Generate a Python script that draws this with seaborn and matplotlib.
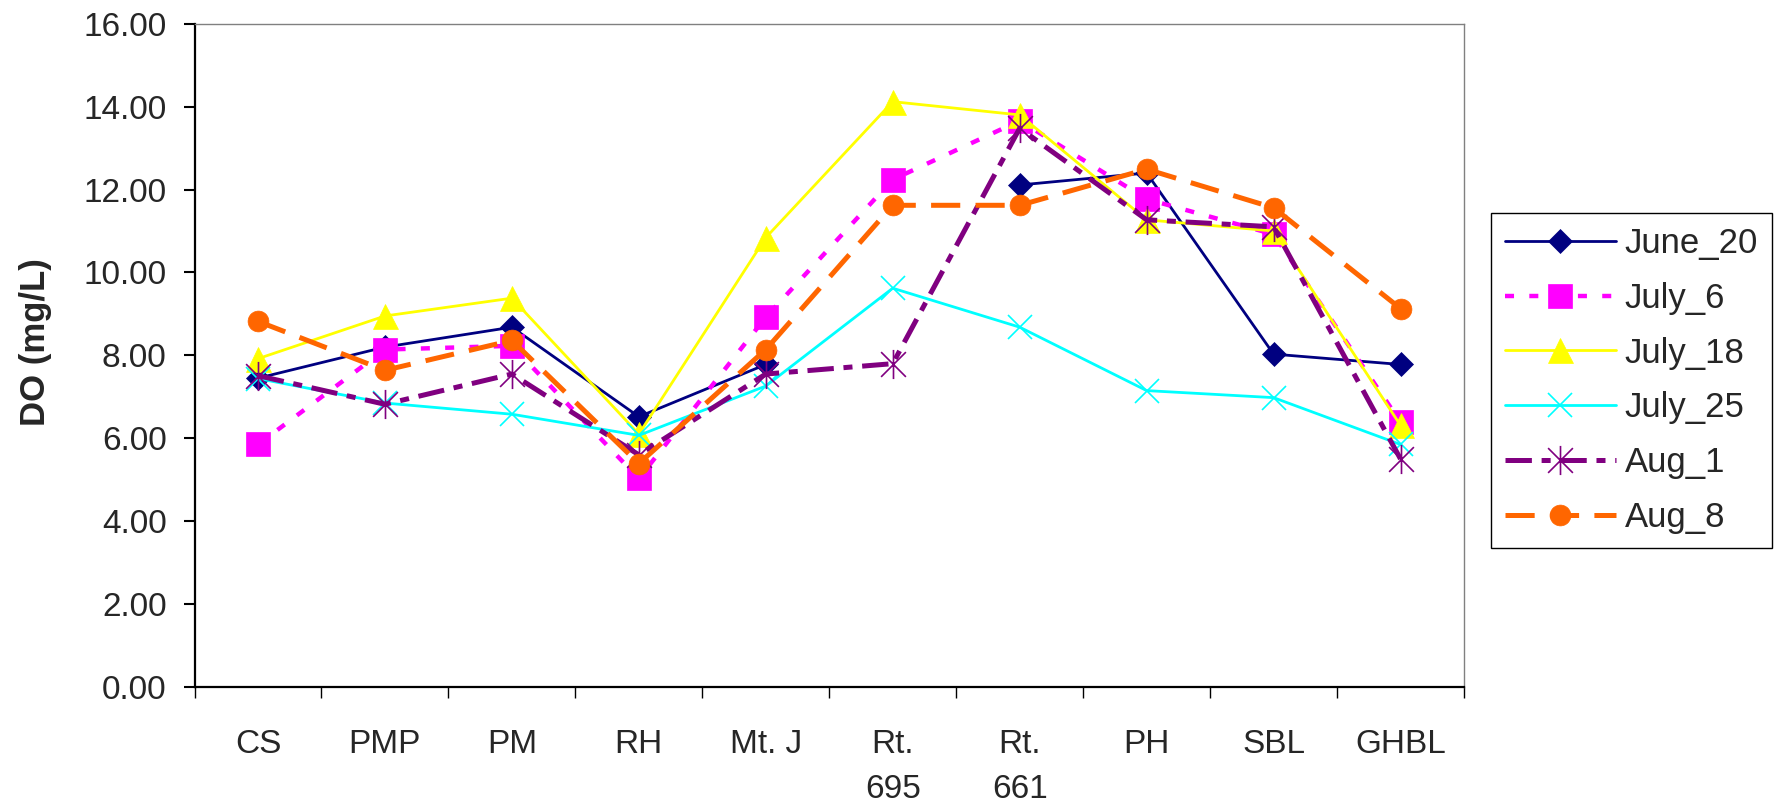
import numpy as np
import matplotlib.pyplot as plt
import seaborn as sns
from matplotlib.lines import Line2D
from matplotlib.path import Path

sns.set_theme(style='white')
plt.rcParams['font.family'] = ['Liberation Sans', 'DejaVu Sans']
plt.rcParams['lines.scale_dashes'] = False

nan = np.nan

sites = ["CS", "PMP", "PM", "RH", "Mt. J", "Rt.\n695", "Rt.\n661", "PH", "SBL", "GHBL"]

june_20 = [7.45, 8.20, 8.68, 6.52, 7.78, nan, 12.11, 12.40, 8.03, 7.78]
july_6 = [5.85, 8.14, 8.23, 5.03, 8.92, 12.24, 13.66, 11.77, 10.92, 6.39]
july_18 = [7.92, 8.95, 9.38, 6.10, 10.84, 14.12, 13.80, 11.27, 11.00, 6.31]
july_25 = [7.44, 6.85, 6.58, 6.07, 7.26, 9.62, 8.68, 7.15, 6.98, 5.85]
aug_1 = [7.51, 6.82, 7.55, 5.60, 7.55, 7.80, 13.48, 11.27, 11.10, 5.50]
aug_8 = [8.82, 7.64, 8.36, 5.39, 8.14, 11.62, 11.62, 12.49, 11.56, 9.13]

# Excel style asterisk: X plus a vertical bar
star = Path([(0, -1), (0, 1), (-0.85, -0.85), (0.85, 0.85), (-0.85, 0.85), (0.85, -0.85)],
            [Path.MOVETO, Path.LINETO, Path.MOVETO, Path.LINETO, Path.MOVETO, Path.LINETO])

series = [
    ('June_20', june_20, dict(color='#000080', lw=2.0, ls='-', marker='D', ms=12.5, mew=0.5)),
    ('July_6', july_6, dict(color='#FF00FF', lw=3.2, ls=(0, (6.5, 11)), marker='s', ms=17, mew=0.5)),
    ('July_18', july_18, dict(color='#FFFF00', lw=2.0, ls='-', marker='^', ms=18, mew=0.5)),
    ('July_25', july_25, dict(color='#00FFFF', lw=2.0, ls='-', marker='x', ms=17, mew=1.2)),
    ('Aug_1', aug_1, dict(color='#800080', lw=3.6, ls=(0, (19, 7, 6.5, 7)), marker=star, ms=21, mew=1.2)),
    ('Aug_8', aug_8, dict(color='#FF6600', lw=3.6, ls=(0, (21, 11)), marker='o', ms=15, mew=0.5)),
]

fig = plt.figure(figsize=(17.78, 8.07), dpi=100)
ax = fig.add_axes([0.1094, 0.1487, 0.7140, 0.8219])

pos = np.arange(len(sites))
handles = []
for name, vals, st in series:
    vals = np.array(vals, dtype=float)
    seg = np.cumsum(np.isnan(vals))
    sns.lineplot(x=pos, y=vals, units=seg, estimator=None, sort=False, legend=False, ax=ax,
                 color=st['color'], linewidth=st['lw'], linestyle=st['ls'],
                 marker=st['marker'], markersize=st['ms'], markeredgewidth=st['mew'],
                 markeredgecolor=st['color'], markerfacecolor=st['color'])
    handles.append(Line2D([], [], color=st['color'], lw=st['lw'], ls=st['ls'], marker=st['marker'],
                          ms=st['ms'], mew=st['mew'], mec=st['color'], mfc=st['color'], label=name))

ax.set_xlim(-0.5, len(sites) - 0.5)
ax.set_ylim(0, 16)
ax.set_yticks(np.arange(0, 16.1, 2))
ax.set_yticklabels([f'{v:.2f}' for v in np.arange(0, 16.1, 2)])
ax.set_xticks(pos)
ax.set_xticklabels(sites, multialignment='center', linespacing=1.6)
ax.set_xticks(np.arange(-0.5, len(sites), 1), minor=True)

ax.tick_params(axis='y', which='major', direction='out', length=8, width=1.5, pad=12,
               labelsize=24, color='black', left=True)
ax.tick_params(axis='x', which='major', length=0, pad=30, labelsize=24)
ax.tick_params(axis='x', which='minor', direction='out', length=8, width=1, color='black', bottom=True)

for side in ['left', 'bottom']:
    ax.spines[side].set_color('black')
    ax.spines[side].set_linewidth(1.6)
for side in ['top', 'right']:
    ax.spines[side].set_color('#808080')
    ax.spines[side].set_linewidth(1.0)

ax.set_xlabel('')
ax.set_ylabel('DO (mg/L)', fontsize=25, fontweight='bold')
ax.yaxis.set_label_coords(-0.112, 0.52)

leg = fig.legend(handles=handles, loc='upper left', bbox_to_anchor=(0.8386, 0.7361),
                 borderaxespad=0, fontsize=25, handlelength=3.2, handletextpad=0.25,
                 labelspacing=0.63, borderpad=0.4, fancybox=False, framealpha=1,
                 edgecolor='black')
leg.get_frame().set_linewidth(1.0)

fig.savefig('out.png', dpi=100)
